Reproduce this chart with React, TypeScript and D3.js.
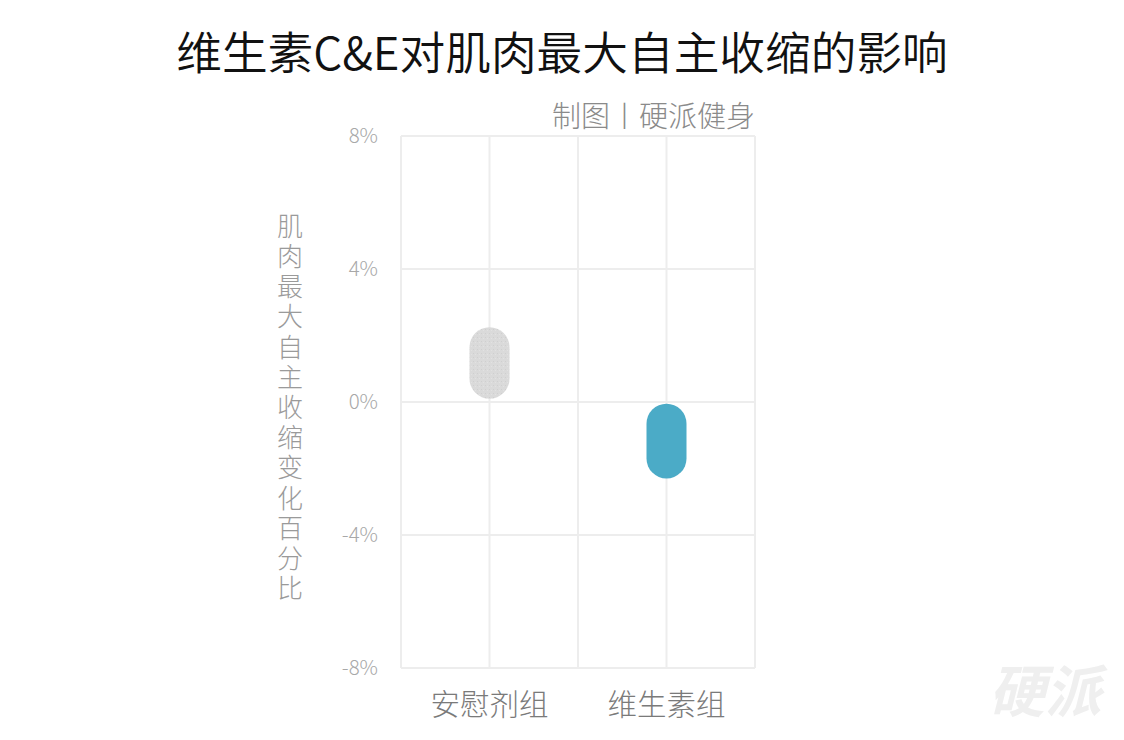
import React from "react";
import * as d3 from "d3";

const categories = ["安慰剂组", "维生素组"];
const lowValues = [0.1, -2.3];
const highValues = [2.25, -0.05];
const yTicks = [8, 4, 0, -4, -8];
const title = "维生素C&E对肌肉最大自主收缩的影响";
const subtitle = "制图丨硬派健身";
const yAxisTitle = "肌肉最大自主收缩变化百分比";
const barColors = ["#d9d9d9", "#4babc7"];

const W = 1124;
const H = 740;
const FONT = "'Noto Sans CJK SC', 'Noto Sans', sans-serif";

export default function App() {
  const left = 401, right = 755, top = 136, bottom = 668;
  const x = d3.scaleBand<string>().domain(categories).range([left, right]).padding(0);
  const y = d3.scaleLinear().domain([-8, 8]).range([bottom, top]);
  const barW = 40;
  const bw = x.bandwidth();
  const vLines: number[] = [];
  categories.forEach((c) => {
    vLines.push(x(c)!);
    vLines.push(x(c)! + bw / 2);
  });
  vLines.push(right);

  return (
    <svg width={W} height={H} style={{ position: "absolute", left: 0, top: 0, background: "#fff" }} fontFamily={FONT}>
      <defs>
        <pattern id="noise" width="4" height="4" patternUnits="userSpaceOnUse">
          <rect width="4" height="4" fill="#dadada" />
          <rect x="1" y="1" width="1" height="1" fill="#cfcfcf" />
          <rect x="3" y="2" width="1" height="1" fill="#e2e2e2" />
        </pattern>
      </defs>
      <rect width={W} height={H} fill="#fff" />
      <text x={562} y={70} textAnchor="middle" fontSize={45.7} fontWeight={350} fill="#111">{title}</text>
      <text x={755} y={127} textAnchor="end" fontSize={29} fontWeight={300} fill="#8a8a8a">{subtitle}</text>
      {yTicks.map((t) => (
        <line key={"h" + t} x1={left} x2={right} y1={y(t)} y2={y(t)} stroke="#ededed" strokeWidth={2} />
      ))}
      {vLines.map((v, i) => (
        <line key={"v" + i} x1={v} x2={v} y1={top} y2={bottom} stroke="#ededed" strokeWidth={2} />
      ))}
      {yTicks.map((t) => (
        <text key={"t" + t} x={378} y={y(t)} dy="0.35em" textAnchor="end" fontSize={20.5} fontWeight={300} fill="#a8a8a8">{t + "%"}</text>
      ))}
      <text x={290} y={213} fontSize={26} fontWeight={300} fill="#9a9a9a"
        style={{ writingMode: "vertical-rl", textOrientation: "upright", letterSpacing: "4.2px" } as any}>{yAxisTitle}</text>
      {categories.map((c, i) => {
        const cx = x(c)! + bw / 2;
        const y0 = y(highValues[i]);
        const y1 = y(lowValues[i]);
        return (
          <rect key={c} x={cx - barW / 2} y={y0} width={barW} height={y1 - y0} rx={barW / 2} ry={barW / 2}
            fill={i === 0 ? "url(#noise)" : barColors[i]} />
        );
      })}
      {categories.map((c) => (
        <text key={"x" + c} x={x(c)! + bw / 2} y={705} dy="0.35em" textAnchor="middle" fontSize={29.5} fontWeight={300} fill="#7a7a7a">{c}</text>
      ))}
      <text x={1045} y={712} textAnchor="middle" fontSize={56} fontWeight="bold" fontStyle="italic" fill="#efefef">硬派</text>
    </svg>
  );
}
